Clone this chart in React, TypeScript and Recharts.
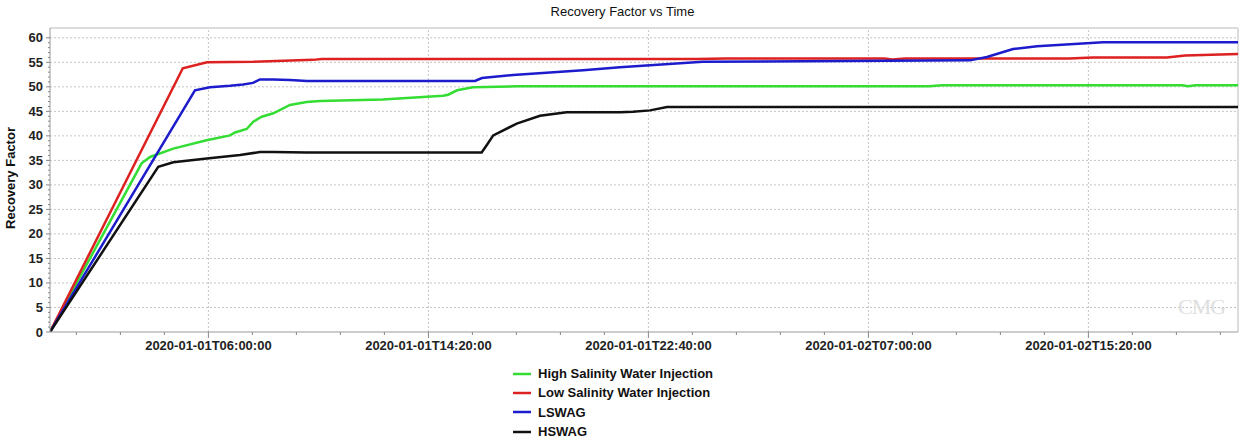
import React from 'react'
import { LineChart, Line, XAxis, YAxis, ReferenceLine } from 'recharts'

// time in hours from 2020-01-01T00:00:00, value = recovery factor
const hsWater = [
  { t: 0, v: 0 }, { t: 3.47, v: 34.4 }, { t: 3.79, v: 35.7 }, { t: 4.67, v: 37.4 },
  { t: 5.93, v: 39.1 }, { t: 6.82, v: 40.1 }, { t: 7.01, v: 40.7 }, { t: 7.45, v: 41.4 },
  { t: 7.7, v: 42.9 }, { t: 8.02, v: 43.9 }, { t: 8.46, v: 44.6 }, { t: 9.09, v: 46.3 },
  { t: 9.72, v: 46.9 }, { t: 10.23, v: 47.1 }, { t: 12.6, v: 47.4 }, { t: 14.89, v: 48.2 },
  { t: 15.08, v: 48.4 }, { t: 15.42, v: 49.3 }, { t: 16.02, v: 49.9 }, { t: 17.69, v: 50.1 },
  { t: 33.3, v: 50.1 }, { t: 33.8, v: 50.3 }, { t: 42.9, v: 50.3 }, { t: 43.1, v: 50.1 },
  { t: 43.4, v: 50.3 }, { t: 45, v: 50.3 }
]

const lsWater = [
  { t: 0, v: 0 }, { t: 5.03, v: 53.8 }, { t: 5.95, v: 55.0 }, { t: 7.7, v: 55.1 },
  { t: 9.96, v: 55.5 }, { t: 10.3, v: 55.7 }, { t: 24.5, v: 55.7 }, { t: 25.6, v: 55.8 },
  { t: 31.6, v: 55.8 }, { t: 31.9, v: 55.6 }, { t: 32.4, v: 55.8 }, { t: 38.6, v: 55.8 },
  { t: 39.5, v: 56.0 }, { t: 42.3, v: 56.0 }, { t: 43.0, v: 56.4 }, { t: 45, v: 56.7 }
]

const lswag = [
  { t: 0, v: 0 }, { t: 5.49, v: 49.3 }, { t: 6.06, v: 49.9 }, { t: 6.82, v: 50.2 },
  { t: 7.31, v: 50.5 }, { t: 7.69, v: 50.8 }, { t: 7.95, v: 51.5 }, { t: 8.45, v: 51.5 },
  { t: 9.09, v: 51.4 }, { t: 9.73, v: 51.2 }, { t: 16.1, v: 51.2 }, { t: 16.36, v: 51.8 },
  { t: 17.54, v: 52.4 }, { t: 18.94, v: 52.9 }, { t: 20.19, v: 53.4 }, { t: 21.59, v: 54.0 },
  { t: 22.73, v: 54.4 }, { t: 24.73, v: 55.1 }, { t: 34.85, v: 55.4 }, { t: 35.49, v: 56.1 },
  { t: 36.48, v: 57.7 }, { t: 37.39, v: 58.3 }, { t: 38.64, v: 58.7 }, { t: 39.89, v: 59.1 },
  { t: 45, v: 59.1 }
]

const hswag = [
  { t: 0, v: 0 }, { t: 4.1, v: 33.7 }, { t: 4.67, v: 34.6 }, { t: 5.94, v: 35.4 },
  { t: 7.2, v: 36.1 }, { t: 7.95, v: 36.7 }, { t: 8.46, v: 36.7 }, { t: 9.72, v: 36.6 },
  { t: 16.35, v: 36.6 }, { t: 16.54, v: 38.1 }, { t: 16.79, v: 40.1 }, { t: 17.68, v: 42.5 },
  { t: 18.56, v: 44.1 }, { t: 19.57, v: 44.8 }, { t: 21.59, v: 44.8 }, { t: 22.08, v: 44.9 },
  { t: 22.73, v: 45.2 }, { t: 23.37, v: 45.9 }, { t: 45, v: 45.9 }
]

const SERIES = [
  { name: 'High Salinity Water Injection', data: hsWater, color: '#33dd33' },
  { name: 'Low Salinity Water Injection', data: lsWater, color: '#dd2020' },
  { name: 'LSWAG', data: lswag, color: '#1c1ccc' },
  { name: 'HSWAG', data: hswag, color: '#111111' }
]

const X_MAJOR = [6, 14 + 1 / 3, 22 + 2 / 3, 31, 39 + 1 / 3]
const X_LABELS = [
  '2020-01-01T06:00:00',
  '2020-01-01T14:20:00',
  '2020-01-01T22:40:00',
  '2020-01-02T07:00:00',
  '2020-01-02T15:20:00'
]
// minor ticks every 100 minutes
const X_TICKS = Array.from({ length: 27 }, (_, i) => 1 + (i * 5) / 3)
const Y_TICKS = Array.from({ length: 61 }, (_, i) => i)
const Y_MAJOR = [5, 10, 15, 20, 25, 30, 35, 40, 45, 50, 55, 60]

const FONT = 'Arial, "Liberation Sans", sans-serif'
const GRID = '#c4c4c4'

const majorIndex = (v: number) => X_MAJOR.findIndex((m) => Math.abs(m - v) < 1e-6)

const XTick = (props: any) => {
  const { x, y, payload } = props
  const idx = majorIndex(payload.value)
  return (
    <g>
      <line x1={x} x2={x} y1={y} y2={y + (idx >= 0 ? 6 : 3)} stroke="#888" />
      {idx >= 0 && (
        <text x={x} y={y + 18} textAnchor="middle" fontSize={13} fontWeight="bold" fill="#222" fontFamily={FONT}>
          {X_LABELS[idx]}
        </text>
      )}
    </g>
  )
}

const YTick = (props: any) => {
  const { x, y, payload } = props
  const major = payload.value % 5 === 0
  return (
    <g>
      <line x1={x - (major ? 4 : 2)} x2={x} y1={y} y2={y} stroke="#888" />
      {major && (
        <text x={x - 7} y={y + 4.5} textAnchor="end" fontSize={13} fontWeight="bold" fill="#222" fontFamily={FONT}>
          {payload.value}
        </text>
      )}
    </g>
  )
}

export default function App() {
  return (
    <div style={{ position: 'absolute', left: 0, top: 0, width: 1245, height: 441, background: '#fff', fontFamily: FONT }}>
      <LineChart width={1245} height={441} data={hsWater} margin={{ top: 28, right: 7, left: 0, bottom: 79 }}>
        <XAxis
          dataKey="t"
          type="number"
          domain={[0, 45]}
          ticks={X_TICKS}
          interval={0}
          tick={<XTick />}
          tickLine={false}
          tickSize={0}
          tickMargin={0}
          height={30}
          stroke="#999"
          allowDataOverflow
        />
        <YAxis
          type="number"
          domain={[0, 62]}
          ticks={Y_TICKS}
          interval={0}
          tick={<YTick />}
          tickLine={false}
          tickSize={0}
          tickMargin={0}
          width={50}
          stroke="#999"
          allowDataOverflow
          label={{
            content: (p: any) => {
              const vb = p.viewBox
              const cx = vb.x + 15
              const cy = vb.y + vb.height / 2 - 2
              return (
                <text x={cx} y={cy} transform={`rotate(-90 ${cx} ${cy})`} textAnchor="middle" fontSize={13} fontWeight="bold" fill="#111" fontFamily={FONT}>
                  Recovery Factor
                </text>
              )
            }
          }}
        />
        {Y_MAJOR.map((v) => (
          <ReferenceLine key={`y${v}`} y={v} stroke={GRID} strokeDasharray="2 2" />
        ))}
        {X_MAJOR.map((v) => (
          <ReferenceLine key={`x${v}`} x={v} stroke={GRID} strokeDasharray="2 2" />
        ))}
        <ReferenceLine y={62} stroke="#dcdcdc" strokeWidth={2} />
        <ReferenceLine x={45} stroke="#dcdcdc" strokeWidth={2} />
        {SERIES.map((s) => (
          <Line
            key={s.name}
            data={s.data}
            dataKey="v"
            name={s.name}
            type="linear"
            stroke={s.color}
            strokeWidth={2.5}
            dot={false}
            isAnimationActive={false}
          />
        ))}
      </LineChart>
      <div style={{ position: 'absolute', top: 4, left: 0, width: 1245, textAlign: 'center', fontSize: 13, color: '#111' }}>
        Recovery Factor vs Time
      </div>
      <div style={{ position: 'absolute', left: 1178, top: 294, fontSize: 22, color: '#dedede', fontFamily: 'serif', letterSpacing: -1 }}>
        CMG
      </div>
      <div style={{ position: 'absolute', left: 512, top: 364 }}>
        {SERIES.map((s) => (
          <div key={s.name} style={{ display: 'flex', alignItems: 'center', height: 19.3 }}>
            <svg width={22} height={6} style={{ marginRight: 4 }}>
              <line x1={1} x2={19} y1={3} y2={3} stroke={s.color} strokeWidth={2.5} />
            </svg>
            <span style={{ fontSize: 13, fontWeight: 'bold', color: '#111' }}>{s.name}</span>
          </div>
        ))}
      </div>
    </div>
  )
}
